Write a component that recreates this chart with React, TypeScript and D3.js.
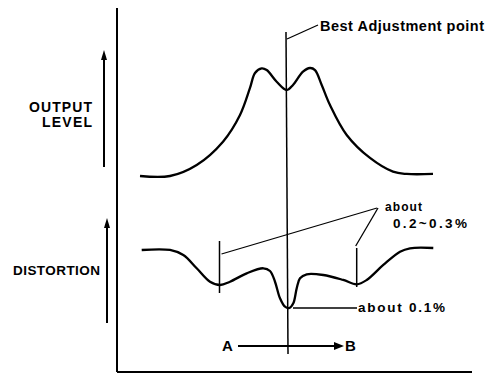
import React from "react";
import * as d3 from "d3";

// Adjustment position (arbitrary units, A -> B)
const outX = [23, 53, 79.7, 106, 123, 133, 138, 144.7, 149.7, 159.7, 169.7, 176, 186, 193, 198, 204.7, 213, 229.7, 253, 276, 289.7, 316];
// Output level (relative, 0 = floor, 100 = peak)
const outLevel = [0, 0, 10.2, 31.8, 56.5, 81.5, 95.4, 99.7, 98.1, 87.3, 79.6, 84.3, 96.6, 100, 98.1, 84.3, 65.7, 38, 16.7, 4, 1.9, 1.9];

const distX = [24.7, 53, 66.3, 79.7, 93, 103, 113, 129.7, 146.3, 153, 158, 163, 168, 172.3, 176.3, 179.7, 183, 189.7, 206.3, 226.3, 239.7, 249.7, 266.3, 283, 293, 316.3];
// Distortion (relative, 0 = about 0.1 %)
const distValue = [96.7, 96.7, 88.3, 66.2, 43.8, 38.3, 43.8, 57.8, 66.2, 61.7, 43.8, 16.2, 2.2, 0, 7.8, 32.8, 49.5, 56.2, 55, 46.7, 39.5, 46.7, 71.7, 93.8, 99.5, 100];

const bestX = 170;
const sideMinX = [102.5, 239.7];

const FONT = "'Liberation Sans', Arial, sans-serif";

export default function App() {
  const W = 492, H = 378;
  const x = d3.scaleLinear().domain([0, 355]).range([117, 472]);
  const yOut = d3.scaleLinear().domain([0, 100]).range([176, 68]);
  const yDist = d3.scaleLinear().domain([0, 100]).range([308, 248]);

  const outLine = d3.line<number>()
    .x((_, i) => x(outX[i]))
    .y((d) => yOut(d))
    .curve(d3.curveCatmullRom.alpha(0.5));
  const distLine = d3.line<number>()
    .x((_, i) => x(distX[i]))
    .y((d) => yDist(d))
    .curve(d3.curveCatmullRom.alpha(0.5));

  const txt = { fontFamily: FONT, fontWeight: 700, fill: "#000" } as const;

  return (
    <svg width={W} height={H} style={{ position: "absolute", left: 0, top: 0, background: "#fff" }}>
      {/* axes */}
      <line x1={x(0)} y1={8} x2={x(0)} y2={372} stroke="#000" strokeWidth={2} />
      <line x1={x(0)} y1={372} x2={x(355)} y2={372} stroke="#000" strokeWidth={2} />

      {/* left arrows */}
      <line x1={104} y1={167} x2={104} y2={58} stroke="#000" strokeWidth={2} />
      <path d="M104,50 L101,60 L107,60 Z" fill="#000" />
      <line x1={107} y1={323} x2={107} y2={226} stroke="#000" strokeWidth={2} />
      <path d="M107,218 L104,228 L110,228 Z" fill="#000" />

      <text x={92} y={112} textAnchor="end" fontSize={14} textLength={63} lengthAdjust="spacing" {...txt}>OUTPUT</text>
      <text x={92} y={127} textAnchor="end" fontSize={14} textLength={50} lengthAdjust="spacing" {...txt}>LEVEL</text>
      <text x={13} y={275} fontSize={13.5} textLength={87} lengthAdjust="spacing" {...txt}>DISTORTION</text>

      {/* curves */}
      <path d={outLine(outLevel) || ""} fill="none" stroke="#000" strokeWidth={2.3} strokeLinejoin="round" />
      <path d={distLine(distValue) || ""} fill="none" stroke="#000" strokeWidth={2.3} strokeLinejoin="round" />

      {/* best adjustment vertical */}
      <line x1={x(bestX) - 1} y1={32} x2={x(bestX) + 1} y2={354} stroke="#000" strokeWidth={1.5} />
      <line x1={x(bestX)} y1={39} x2={318} y2={25} stroke="#000" strokeWidth={1.3} />
      <text x={320} y={31} fontSize={14.5} textLength={164} lengthAdjust="spacing" {...txt}>Best Adjustment point</text>

      {/* side minima markers */}
      <line x1={x(sideMinX[0])} y1={241} x2={x(sideMinX[0])} y2={293} stroke="#000" strokeWidth={1.5} />
      <line x1={x(sideMinX[1])} y1={248} x2={x(sideMinX[1])} y2={287} stroke="#000" strokeWidth={1.5} />
      <line x1={x(sideMinX[0]) + 2} y1={254} x2={377} y2={208} stroke="#000" strokeWidth={1.3} />
      <line x1={x(sideMinX[1]) - 1} y1={246} x2={378} y2={208} stroke="#000" strokeWidth={1.3} />
      <text x={385} y={211} fontSize={12} textLength={37} lengthAdjust="spacing" {...txt}>about</text>
      <text x={393} y={228} fontSize={13.5} textLength={74} lengthAdjust="spacing" {...txt}>0.2~0.3%</text>

      {/* 0.1% annotation */}
      <line x1={x(bestX) + 6} y1={yDist(0)} x2={357} y2={yDist(0)} stroke="#000" strokeWidth={1.3} />
      <text x={358} y={312} fontSize={13.5} textLength={87} lengthAdjust="spacing" {...txt}>about  0.1%</text>

      {/* A -> B */}
      <text x={222} y={351} fontSize={15} {...txt}>A</text>
      <line x1={238} y1={346} x2={336} y2={346} stroke="#000" strokeWidth={2} />
      <path d="M344,346 L334,342 L334,350 Z" fill="#000" />
      <text x={345} y={351} fontSize={15} {...txt}>B</text>
    </svg>
  );
}
